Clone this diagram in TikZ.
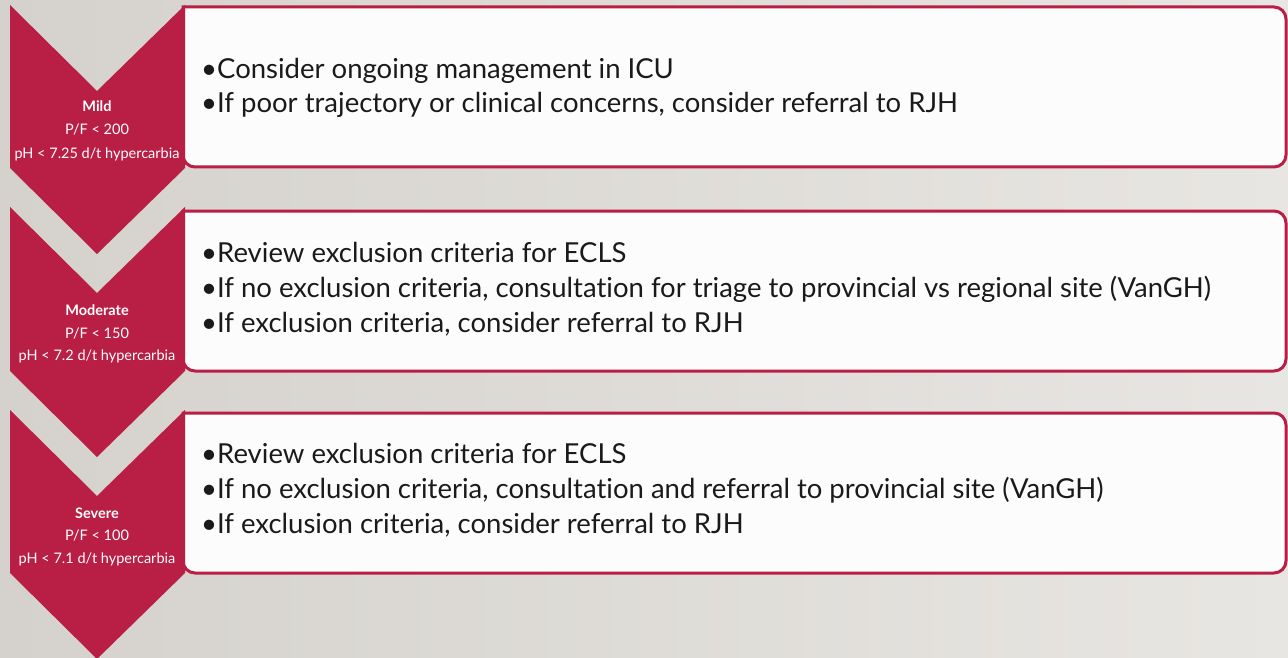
\documentclass[tikz,border=0pt]{standalone}
\usepackage{fontspec}
\setmainfont[Ligatures=NoCommon]{Lato}
\definecolor{crimson}{HTML}{B91E45}
\definecolor{bgleft}{HTML}{D5D2CD}
\definecolor{bgright}{HTML}{E8E6E2}
\definecolor{panelfill}{HTML}{FCFCFC}
\definecolor{ink}{HTML}{1A1A1A}

\begin{document}
\begin{tikzpicture}[x=1pt, y=-1pt,
  chevron/.style={fill=crimson, draw=none},
  panel/.style={fill=panelfill, draw=crimson, line width=3pt},
  tierlabel/.style={text=white, font=\fontsize{14.5}{17}\selectfont, anchor=base, inner sep=0pt},
  tiername/.style={tierlabel, font=\fontsize{14.5}{17}\selectfont\bfseries},
  bulletline/.style={text=ink, font=\fontsize{27.5}{32}\selectfont, anchor=base west, inner sep=0pt}]

% Background
\useasboundingbox (0,0) rectangle (1288,658);
\shade[left color=bgleft, right color=bgright] (0,0) rectangle (1288,658);

% Panels
\draw[panel] (183,167) -- (183,7) [rounded corners=12pt] -- (1286,7) -- (1286,167) -- (183,167) [sharp corners] -- cycle;
\draw[panel] (183,371) -- (183,211) [rounded corners=12pt] -- (1286,211) -- (1286,371) -- (183,371) [sharp corners] -- cycle;
\draw[panel] (183,573) -- (183,413) [rounded corners=12pt] -- (1286,413) -- (1286,573) -- (183,573) [sharp corners] -- cycle;

% Chevrons
\fill[chevron] (10,5) -- (97,91) -- (185,5) -- (185,168) -- (97,254) -- (10,168) -- cycle;
\fill[chevron] (10,207) -- (97,293) -- (185,207) -- (185,371) -- (97,457) -- (10,371) -- cycle;
\fill[chevron] (10,410) -- (97,496) -- (185,410) -- (185,573) -- (97,659) -- (10,573) -- cycle;

% Mild
\node[tiername] (mild) at (97,112) {Mild};
\node[tierlabel] (mildpf) at (97,135) {P/F < 200};
\node[tierlabel] (mildph) at (97,158) {pH < 7.25 d/t hypercarbia};
\node[bulletline] (mildA) at (201,79) {•Consider ongoing management in ICU};
\node[bulletline] (mildB) at (201,113) {•If poor trajectory or clinical concerns, consider referral to RJH};

% Moderate
\node[tiername] (moderate) at (97,315) {Moderate};
\node[tierlabel] (modpf) at (97,338) {P/F < 150};
\node[tierlabel] (modph) at (97,360) {pH < 7.2 d/t hypercarbia};
\node[bulletline] (modA) at (201,262) {•Review exclusion criteria for ECLS};
\node[bulletline] (modB) at (201,297) {•If no exclusion criteria, consultation for triage to provincial vs regional site (VanGH)};
\node[bulletline] (modC) at (201,332) {•If exclusion criteria, consider referral to RJH};

% Severe
\node[tiername] (severe) at (97,518) {Severe};
\node[tierlabel] (sevpf) at (97,540) {P/F < 100};
\node[tierlabel] (sevph) at (97,563) {pH < 7.1 d/t hypercarbia};
\node[bulletline] (sevA) at (201,463) {•Review exclusion criteria for ECLS};
\node[bulletline] (sevB) at (201,498) {•If no exclusion criteria, consultation and referral to provincial site (VanGH)};
\node[bulletline] (sevC) at (201,533) {•If exclusion criteria, consider referral to RJH};

\end{tikzpicture}
\end{document}
